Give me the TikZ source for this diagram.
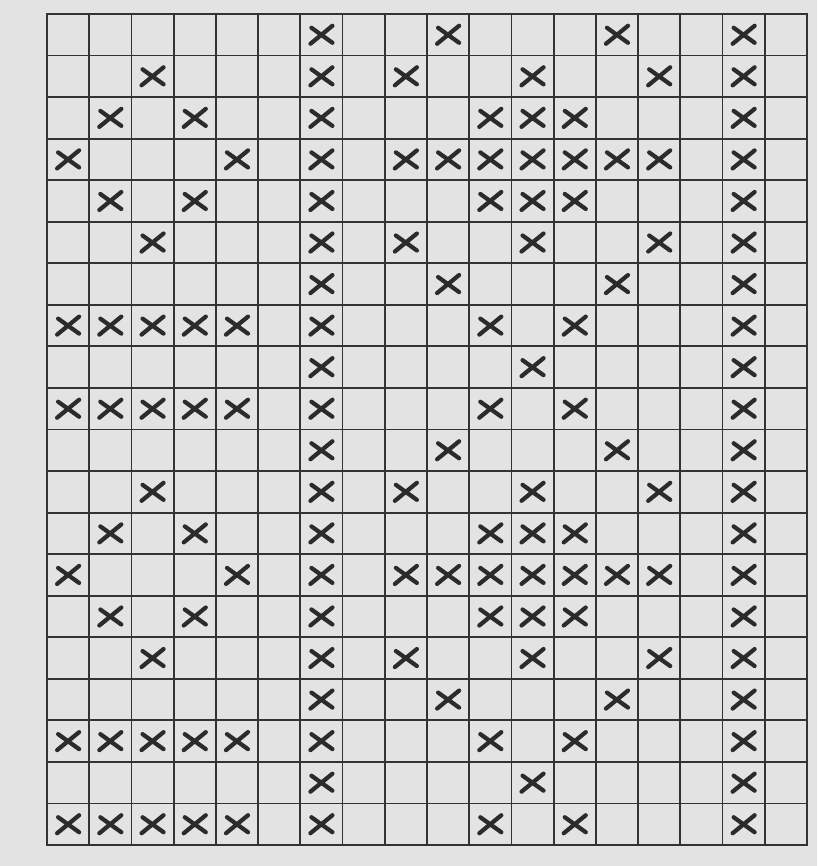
\documentclass[tikz,border=0pt]{standalone}
\definecolor{paper}{HTML}{E3E3E3}
\definecolor{ink}{HTML}{333333}
\tikzset{
  gridline/.style={ink, line width=1.3pt},
  cross/.style={ink!85!black, line width=3pt, line cap=round},
}
\begin{document}
\begin{tikzpicture}[x=0.025cm,y=-0.025cm]
\fill[paper] (0,0) rectangle (817,866);
\coordinate (NW) at (47,14);
\coordinate (SE) at (807,845);

% grid, 18 columns and 20 rows
\foreach \c in {0,...,18}
  \draw[gridline] ({47+\c*42.22},14) -- ({47+\c*42.22},845);
\foreach \r in {0,...,20}
  \draw[gridline] (47,{14+\r*41.55}) -- (807,{14+\r*41.55});
\draw[gridline] (NW) rectangle (SE);

% crosses, row by row
\foreach \r/\cols in {
  1/{7,10,14,17},
  2/{3,7,9,12,15,17},
  3/{2,4,7,11,12,13,17},
  4/{1,5,7,9,10,11,12,13,14,15,17},
  5/{2,4,7,11,12,13,17},
  6/{3,7,9,12,15,17},
  7/{7,10,14,17},
  8/{1,2,3,4,5,7,11,13,17},
  9/{7,12,17},
  10/{1,2,3,4,5,7,11,13,17},
  11/{7,10,14,17},
  12/{3,7,9,12,15,17},
  13/{2,4,7,11,12,13,17},
  14/{1,5,7,9,10,11,12,13,14,15,17},
  15/{2,4,7,11,12,13,17},
  16/{3,7,9,12,15,17},
  17/{7,10,14,17},
  18/{1,2,3,4,5,7,11,13,17},
  19/{7,12,17},
  20/{1,2,3,4,5,7,11,13,17}}
  \foreach \c in \cols
    \draw[cross, shift={({47+(\c-0.5)*42.22},{14+(\r-0.5)*41.55})}]
      (-11,9) -- (11,-9) (-10,-7) -- (11,8);
\end{tikzpicture}
\end{document}
